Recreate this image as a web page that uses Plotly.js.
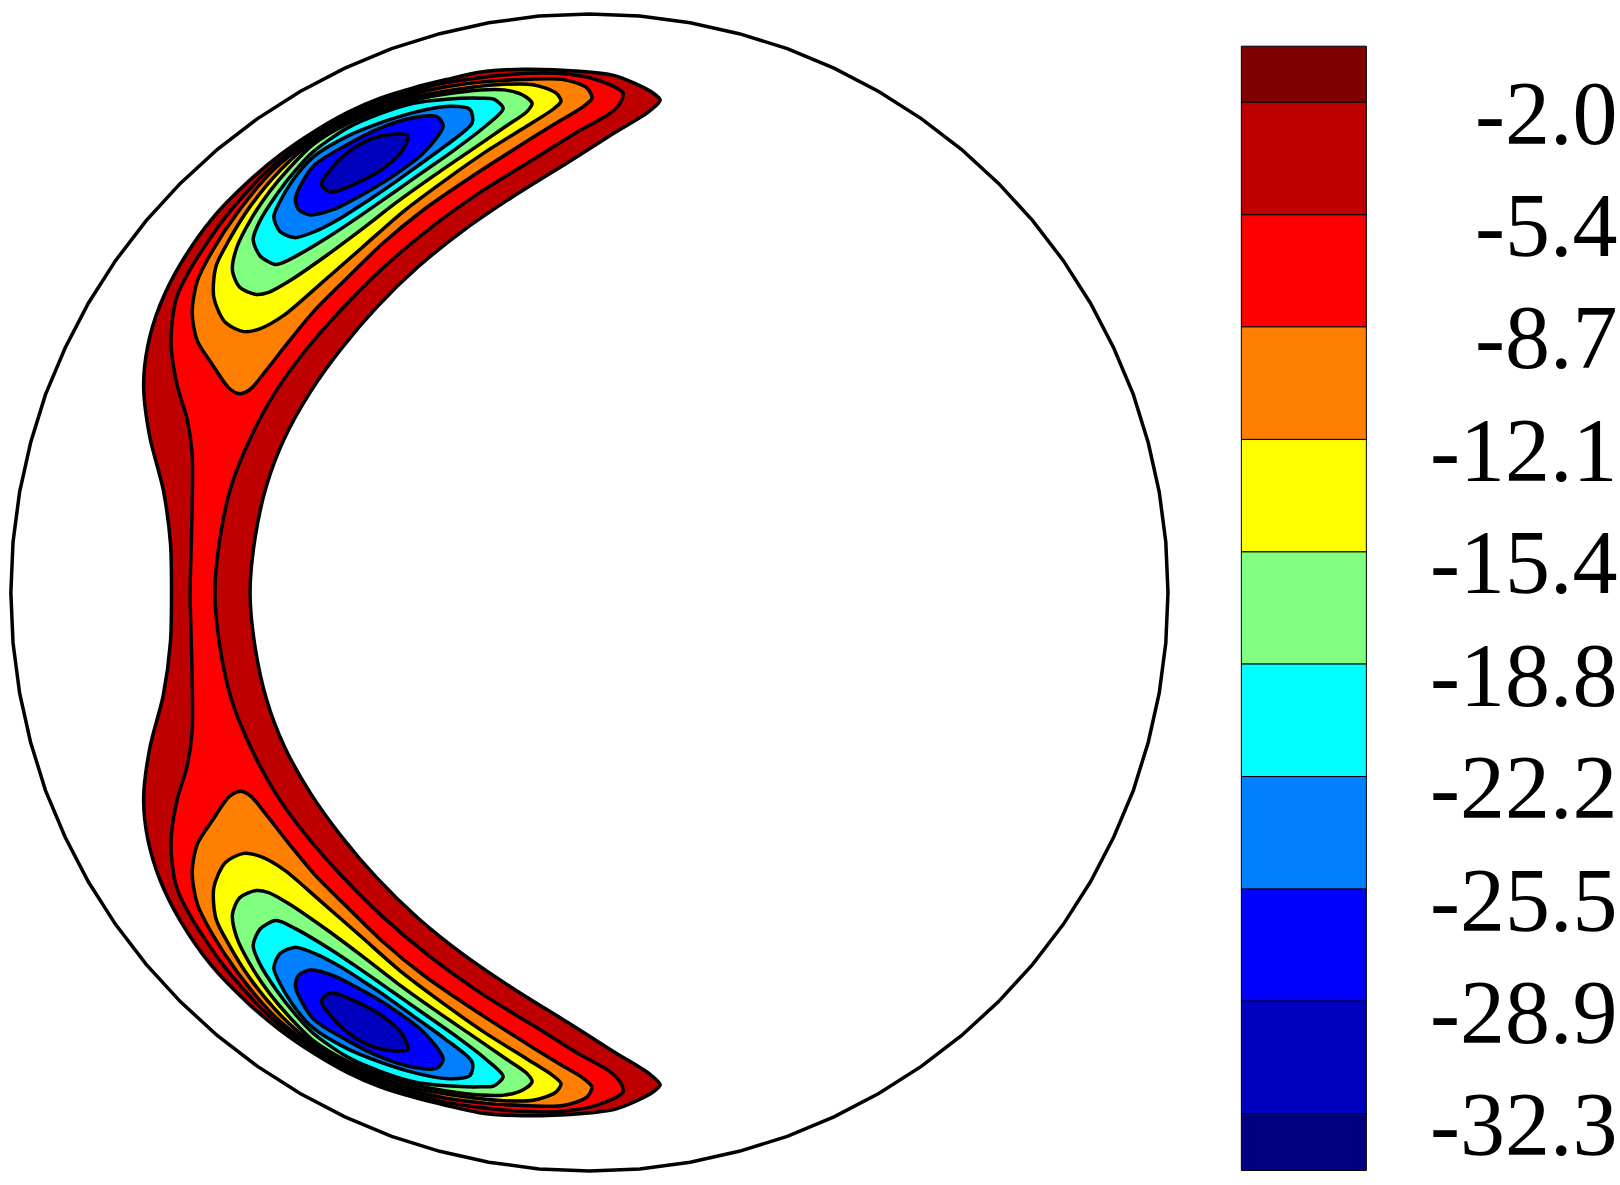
<!DOCTYPE html>
<html><head><meta charset="utf-8">
<script src="https://cdn.plot.ly/plotly-3.0.1.min.js"></script>
<style>html,body{margin:0;padding:0;background:#fff}#c{width:1620px;height:1185px}</style>
</head><body><div id="c"></div>
<script>
// Colour-bar levels
const levels=[-2.0,-5.37,-8.73,-12.1,-15.47,-18.83,-22.2,-25.57,-28.93,-32.3];
const levelLabels=["-2.0","-5.4","-8.7","-12.1","-15.4","-18.8","-22.2","-25.5","-28.9","-32.3"];
const bandTop=[-0.32,-2.0,-5.37,-8.73,-12.1,-15.47,-18.83,-22.2,-25.57,-28.93,-32.3];
const bandBottom=[-2.0,-5.37,-8.73,-12.1,-15.47,-18.83,-22.2,-25.57,-28.93,-32.3,-34.0];
const bandColors=["#800000","#bf0000","#ff0000","#ff8000","#ffff00","#80ff80","#00ffff","#0080ff","#0000ff","#0000bf","#000080"];

// Domain circle outline
const circleX=[1130.5,1128.4,1122,1111.4,1097,1078,1055.5,1029.2,999.5,966.5,930.5,891.7,850.5,807.2,762,715.4,668,619.3,570.5,521.7,473,425.6,379,333.8,290.5,249.3,210.5,174.5,141.5,111.8,85.5,63,44,29.6,19,12.6,10.5,12.6,19,29.6,44,63,85.5,111.8,141.5,174.5,210.5,249.3,290.5,333.8,379,425.6,473,521.7,570.5,619.3,668,715.4,762,807.2,850.5,891.7,930.5,966.5,999.5,1029.2,1055.5,1078,1097,1111.4,1122,1128.4,1130.5];
const circleY=[573.5,524.7,476,428.6,382,336.8,293.5,252.3,213.5,177.5,144.5,114.8,88.5,66,47,32.6,22,15.6,13.5,15.6,22,32.6,47,66,88.5,114.8,144.5,177.5,213.5,252.3,293.5,336.8,382,428.6,476,524.7,573.5,622.3,671,718.4,765,810.2,853.5,894.7,933.5,969.5,1002.5,1032.2,1058.5,1081,1100,1114.4,1125,1131.4,1133.5,1131.4,1125,1114.4,1100,1081,1058.5,1032.2,1002.5,969.5,933.5,894.7,853.5,810.2,765,718.4,671,622.3,573.5];

// Contour outlines
const darkRedX=[639,632,615,594,561,506,464,432,400,368,336,303,271,240,205,175,155,143,139,145,158,165,166,165,158,145,139,143,155,175,205,240,271,303,336,368,400,432,464,506,561,594,615,632,639,628,594,550,500,450,405,365,330,300,275,258,247,242,247,258,275,300,330,365,405,450,500,550,594,628,639];
const darkRedY=[97,90,81,73,69,67,70,77,85,95,109,128,150,176,212,255,295,335,374,423,474,526,574,621,673,724,773,812,852,892,935,971,997,1019,1038,1052,1062,1070,1077,1080,1078,1074,1066,1057,1050,1039,1018,990,959,925,889,850,809,767,722,677,627,574,520,470,425,380,338,297,258,222,188,157,129,108,97];

const redX=[184,185,186,186,181,172,166,166,171,184,216,259,303,336,368,400,432,494,539,577,603,600,590,560,515,465,415,370,330,295,265,242,224,213,208,213,224,242,265,295,330,370,415,465,515,560,590,600,603,577,539,494,432,400,368,336,303,259,216,184,171,166,166,172,181,186,186,185,184];
const redY=[574,530,490,440,405,375,340,318,288,261,213,165,131,112,98,88,80,72,71,77,90,100,110,127,155,186,222,260,300,340,382,425,470,520,574,627,677,722,765,807,847,887,925,961,992,1020,1037,1047,1057,1070,1076,1075,1067,1059,1049,1035,1016,982,934,886,859,829,807,772,742,707,657,617,574];

const orangeTopX=[232,222,205,191,186,191,206,229,264,303,336,368,400,432,471,506,545,568,573,565,540,500,455,410,370,335,305,280,258,242,232];
const orangeTopY=[381,376,352,330,303,272,242,207,165,134,115,101,91,84,79,77,77,85,95,103,118,143,172,203,236,270,300,330,358,377,381];
const orangeBottomX=[232,222,205,191,186,191,206,229,264,303,336,368,400,432,471,506,545,568,573,565,540,500,455,410,370,335,305,280,258,242,232];
const orangeBottomY=[766,771,795,817,844,875,905,940,982,1013,1032,1046,1056,1063,1068,1070,1070,1062,1052,1044,1029,1004,975,944,911,877,847,817,789,770,766];

const yellowTopX=[236,218,207,209,222,242,271,303,336,368,400,432,481,516,538,543,535,510,470,430,390,350,310,275,252,236];
const yellowTopY=[321,312,288,258,232,200,165,137,118,104,94,88,82,82,90,98,106,122,147,175,205,240,275,305,318,321];
const yellowBottomX=[236,218,207,209,222,242,271,303,336,368,400,432,481,516,538,543,535,510,470,430,390,350,310,275,252,236];
const yellowBottomY=[826,835,859,889,915,947,982,1010,1029,1043,1053,1059,1065,1065,1057,1049,1041,1025,1000,972,942,907,872,842,829,826];

const greenTopX=[248,232,225,229,243,262,278,303,336,368,400,432,465,488,506,515,510,490,455,420,385,350,315,280,260,248];
const greenTopY=[285,278,262,240,212,184,165,140,120,107,97,91,87,87,92,100,108,122,146,170,195,222,248,272,283,285];
const greenBottomX=[248,232,225,229,243,262,278,303,336,368,400,432,465,488,506,515,510,490,455,420,385,350,315,280,260,248];
const greenBottomY=[862,869,885,907,935,963,982,1007,1027,1040,1050,1056,1060,1060,1055,1047,1039,1025,1001,977,952,925,899,875,864,862];

const cyanTopX=[266,252,245,251,268,286,303,336,368,400,432,465,478,487,470,440,410,380,350,320,290,272,266];
const cyanTopY=[256,248,232,215,188,165,147,124,110,100,96,95,96,105,122,145,166,187,208,228,246,255,256];
const cyanBottomX=[266,252,245,251,268,286,303,336,368,400,432,465,478,487,470,440,410,380,350,320,290,272,266];
const cyanBottomY=[891,899,915,932,959,982,1000,1023,1037,1047,1051,1052,1051,1042,1025,1002,981,960,939,919,901,892,891];

const midBlueTopX=[285,271,265,270,283,303,336,368,400,432,455,457,430,405,380,355,330,305,285];
const midBlueTopY=[230,224,210,197,175,152,132,119,109,103,106,119,142,160,178,195,211,224,230];
const midBlueBottomX=[285,271,265,270,283,303,336,368,400,432,455,457,430,405,380,355,330,305,285];
const midBlueBottomY=[917,923,937,950,972,995,1015,1028,1038,1044,1041,1028,1005,987,969,952,936,923,917];

const blueTopX=[300,289,286,303,336,368,400,423,429,410,384,355,322,300];
const blueTopY=[208,203,192,161,140,124,114,113,122,148,168,186,203,208];
const blueBottomX=[300,289,286,303,336,368,400,423,429,410,384,355,322,300];
const blueBottomY=[939,944,955,986,1007,1023,1033,1034,1025,999,979,961,944,939];

const navyTopX=[320,311,319,336,358,380,395,390,375,350,320];
const navyTopY=[186,178,165,148,135,130,131,145,160,175,186];
const navyBottomX=[320,311,319,336,358,380,395,390,375,350,320];
const navyBottomY=[961,969,982,999,1012,1017,1016,1002,987,972,961];

function region(x,y,color){
  return {type:'scatter',mode:'lines',x:x,y:y,fill:'toself',fillcolor:color,
    line:{color:'#000',width:3.5,shape:'spline',smoothing:0.8},hoverinfo:'skip',showlegend:false};
}
const data=[
  {type:'scatter',mode:'lines',x:circleX,y:circleY,line:{color:'#000',width:3.5},hoverinfo:'skip',showlegend:false},
  region(darkRedX,darkRedY,'#bf0000'),
  region(redX,redY,'#ff0000'),
  region(orangeTopX,orangeTopY,'#ff8000'),region(orangeBottomX,orangeBottomY,'#ff8000'),
  region(yellowTopX,yellowTopY,'#ffff00'),region(yellowBottomX,yellowBottomY,'#ffff00'),
  region(greenTopX,greenTopY,'#80ff80'),region(greenBottomX,greenBottomY,'#80ff80'),
  region(cyanTopX,cyanTopY,'#00ffff'),region(cyanBottomX,cyanBottomY,'#00ffff'),
  region(midBlueTopX,midBlueTopY,'#0080ff'),region(midBlueBottomX,midBlueBottomY,'#0080ff'),
  region(blueTopX,blueTopY,'#0000ff'),region(blueBottomX,blueBottomY,'#0000ff'),
  region(navyTopX,navyTopY,'#0000bf'),region(navyBottomX,navyBottomY,'#0000bf'),
  {type:'bar',xaxis:'x',yaxis:'y2',x:bandTop.map(()=>1262),width:121,
   base:bandBottom,y:bandTop.map((t,i)=>t-bandBottom[i]),
   marker:{color:bandColors,line:{color:'#000',width:1}},hoverinfo:'skip',showlegend:false}
];
const layout={
  width:1620,height:1185,margin:{l:0,r:0,t:0,b:0},paper_bgcolor:'#fff',plot_bgcolor:'#fff',
  barmode:'overlay',showlegend:false,
  xaxis:{range:[0,1568],visible:false,fixedrange:true},
  yaxis:{range:[1147,0],visible:false,fixedrange:true},
  yaxis2:{range:[-34.436,1.064],overlaying:'y',visible:false,fixedrange:true},
  annotations:levels.map((v,i)=>({xref:'x',yref:'y2',x:1567,y:v,yshift:-11,text:levelLabels[i],showarrow:false,
    xanchor:'right',yanchor:'middle',font:{family:'"Liberation Serif",serif',size:90,color:'#000'}}))
};
Plotly.newPlot('c',data,layout,{staticPlot:true,displayModeBar:false});
</script>
</body></html>
